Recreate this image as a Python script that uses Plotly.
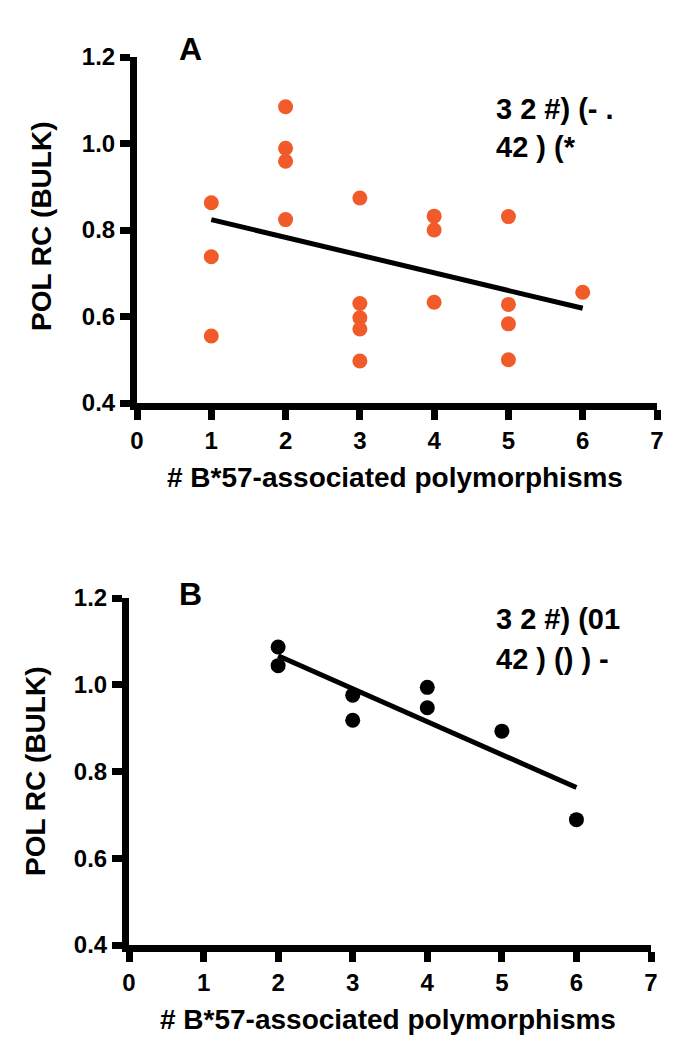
import plotly.graph_objects as go

# ---- data ----
a_x = [1, 1, 1, 2, 2, 2, 2, 3, 3, 3, 3, 3, 4, 4, 4, 5, 5, 5, 5, 6]
a_y = [0.863, 0.738, 0.555, 1.085, 0.989, 0.959, 0.824, 0.874, 0.630, 0.597,
       0.571, 0.497, 0.832, 0.800, 0.633, 0.831, 0.628, 0.583, 0.500, 0.656]
a_fit_x = [1, 6]
a_fit_y = [0.824, 0.619]

b_x = [2, 2, 3, 3, 4, 4, 5, 6]
b_y = [1.087, 1.044, 0.976, 0.918, 0.994, 0.947, 0.893, 0.689]
b_fit_x = [2, 6]
b_fit_y = [1.067, 0.763]

x_ticks = [0, 1, 2, 3, 4, 5, 6, 7]
y_ticks = [0.4, 0.6, 0.8, 1.0, 1.2]
y_title = "POL RC (BULK)"
x_title = "# B*57-associated polymorphisms"
a_stats = ["3 2 #) (- .", "42 ) (*"]
b_stats = ["3 2 #) (01", "42 ) () ) -"]

W, H = 677, 1050
FONT = "Liberation Sans, Arial, sans-serif"
ORANGE = "#F15A29"

def px_x(p):
    return p / W

def px_y(p):
    return 1 - p / H

fig = go.Figure()

fig.add_trace(go.Scatter(x=a_x, y=a_y, mode="markers", xaxis="x", yaxis="y",
                         marker=dict(size=15, color=ORANGE, line=dict(width=0)),
                         cliponaxis=False, showlegend=False))
fig.add_trace(go.Scatter(x=a_fit_x, y=a_fit_y, mode="lines", xaxis="x", yaxis="y",
                         line=dict(color="black", width=5), showlegend=False))
fig.add_trace(go.Scatter(x=b_x, y=b_y, mode="markers", xaxis="x2", yaxis="y2",
                         marker=dict(size=15, color="black", line=dict(width=0)),
                         cliponaxis=False, showlegend=False))
fig.add_trace(go.Scatter(x=b_fit_x, y=b_fit_y, mode="lines", xaxis="x2", yaxis="y2",
                         line=dict(color="black", width=5), showlegend=False))

tickfont = dict(family=FONT, size=24, color="black", weight="bold")
axis_style = dict(showline=True, linewidth=7, linecolor="black", ticks="outside",
                  ticklen=10, tickwidth=7, tickcolor="black", showgrid=False,
                  zeroline=False, tickfont=tickfont, fixedrange=True, automargin=False)

fig.update_layout(
    template="none",
    width=W, height=H,
    margin=dict(l=0, r=0, t=0, b=0, autoexpand=False),
    paper_bgcolor="white", plot_bgcolor="white",
)
fig.update_layout(
    xaxis=dict(domain=[px_x(129), px_x(649)], anchor="y"),
    yaxis=dict(domain=[px_y(395), px_y(49)], anchor="x"),
    xaxis2=dict(domain=[px_x(121), px_x(643)], anchor="y2"),
    yaxis2=dict(domain=[px_y(937), px_y(590)], anchor="x2"),
)
fig.update_xaxes(range=[0, 7], tickvals=x_ticks, ticktext=[str(v) for v in x_ticks], **axis_style)
fig.update_yaxes(range=[0.4, 1.2], tickvals=y_ticks, ticktext=[f"{v:.1f}" for v in y_ticks], **axis_style)

title_font = dict(family=FONT, size=28, color="black", weight="bold")
label_font = dict(family=FONT, size=32, color="black", weight="bold")
stat_font = dict(family=FONT, size=29, color="black", weight="bold")

ann = []
# panel letters
ann.append(dict(text="A", x=px_x(183), y=px_y(41), font=label_font))
ann.append(dict(text="B", x=px_x(183), y=px_y(586), font=label_font))
# axis titles
ann.append(dict(text=x_title, x=px_x(387), y=px_y(470), font=title_font))
ann.append(dict(text=x_title, x=px_x(380), y=px_y(1011), font=title_font))
ann.append(dict(text=y_title, x=px_x(33), y=px_y(219), font=title_font, textangle=-90))
ann.append(dict(text=y_title, x=px_x(27), y=px_y(764), font=title_font, textangle=-90))
# stats text
for t, yy in zip(a_stats, [101, 139]):
    ann.append(dict(text=t, x=px_x(486), y=px_y(yy), font=stat_font, xanchor="left"))
for t, yy in zip(b_stats, [611, 651]):
    ann.append(dict(text=t, x=px_x(486), y=px_y(yy), font=stat_font, xanchor="left"))

for a in ann:
    a.setdefault("xanchor", "center")
    a.update(xref="paper", yref="paper", yanchor="middle", showarrow=False)
    fig.add_annotation(**a)

fig.write_html("out.html")
